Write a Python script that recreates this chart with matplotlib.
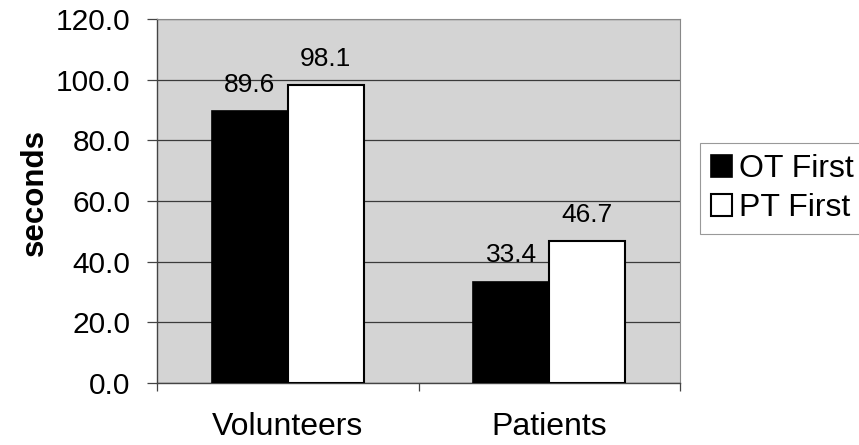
import matplotlib
matplotlib.use("Agg")
import matplotlib.pyplot as plt
import numpy as np
from matplotlib.ticker import FormatStrFormatter

groups = ["Volunteers", "Patients"]
ot_first = [89.6, 33.4]
pt_first = [98.1, 46.7]

plt.rcParams['font.family'] = ['Liberation Sans', 'DejaVu Sans']

fig = plt.figure(figsize=(8.59, 4.45), dpi=100)
ax = fig.add_axes([0.1828, 0.1393, 0.6088, 0.818])
ax.set_facecolor('#d4d4d4')

ind = np.arange(len(groups))
width = 0.29
rects1 = ax.bar(ind - width / 2, ot_first, width, color='black', edgecolor='black',
                linewidth=1.2, label='OT First', zorder=3)
rects2 = ax.bar(ind + width / 2, pt_first, width, color='white', edgecolor='black',
                linewidth=1.5, label='PT First', zorder=3)

ax.set_ylim(0, 120)
ax.set_xlim(-0.5, 1.5)
ax.set_yticks(np.arange(0, 121, 20))
ax.yaxis.set_major_formatter(FormatStrFormatter('%.1f'))
ax.yaxis.grid(True, color='#3a3a3a', linewidth=0.9, zorder=1)
ax.tick_params(axis='y', labelsize=21.5, length=7, width=0.9, color='#444444', pad=12)

# category separators as major ticks, names on minor ticks
ax.set_xticks([-0.5, 0.5, 1.5])
ax.set_xticklabels([])
ax.set_xticks(ind, minor=True)
ax.set_xticklabels(groups, minor=True)
ax.tick_params(axis='x', which='major', length=6, width=0.9, color='#444444')
ax.tick_params(axis='x', which='minor', length=0, labelsize=23, pad=21)

for s in ['left', 'bottom']:
    ax.spines[s].set_color('#444444')
    ax.spines[s].set_linewidth(1.0)
for s in ['top', 'right']:
    ax.spines[s].set_color('#888888')
    ax.spines[s].set_linewidth(0.8)

ax.set_ylabel('seconds', fontsize=22.5, fontweight='bold')
ax.yaxis.set_label_coords(-0.205, 0.522)


def autolabel(rects):
    for rect in rects:
        height = rect.get_height()
        ax.annotate('{:.1f}'.format(height),
                    xy=(rect.get_x() + rect.get_width() / 2, height),
                    xytext=(0, 10.5), textcoords="offset points",
                    ha='center', va='bottom', fontsize=19, zorder=4)


autolabel(rects1)
autolabel(rects2)

leg = fig.legend(handles=[rects1, rects2], loc='upper left',
                 bbox_to_anchor=(0.815, 0.679), bbox_transform=fig.transFigure,
                 borderaxespad=0, fontsize=23, handlelength=0.66, handleheight=0.66,
                 handletextpad=0.22, labelspacing=0.28, borderpad=0.35,
                 fancybox=False, framealpha=1, edgecolor='#999999')
leg.get_frame().set_linewidth(0.8)

fig.savefig('out.png', dpi=100)
